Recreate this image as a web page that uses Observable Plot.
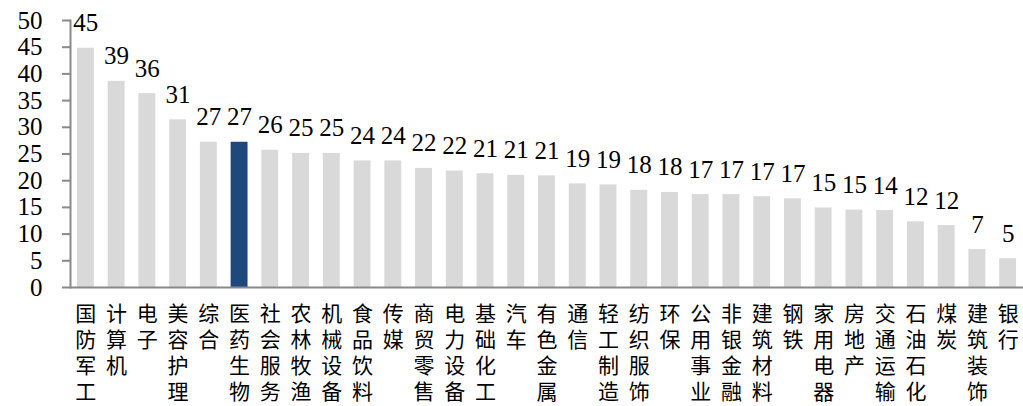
<!DOCTYPE html>
<html>
<head>
<meta charset="utf-8">
<script src="https://cdn.jsdelivr.net/npm/d3@7"></script>
<script src="https://cdn.jsdelivr.net/npm/@observablehq/plot@0.6"></script>
<style>
  html, body { margin: 0; padding: 0; background: #ffffff; }
  svg { display: block; }
  /* Latin digits in a Times-style serif; Chinese glyphs fall through to Noto Sans CJK */
  svg text { font-family: "Liberation Serif", "Times New Roman", "Noto Sans CJK SC", serif; }
</style>
</head>
<body>
<script>
// Industry names (Shenwan level-1), sorted by value
const industries = [
  "国防军工", "计算机", "电子", "美容护理", "综合", "医药生物", "社会服务", "农林牧渔",
  "机械设备", "食品饮料", "传媒", "商贸零售", "电力设备", "基础化工", "汽车", "有色金属",
  "通信", "轻工制造", "纺织服饰", "环保", "公用事业", "非银金融", "建筑材料", "钢铁",
  "家用电器", "房地产", "交通运输", "石油石化", "煤炭", "建筑装饰", "银行"
];

// Value per industry
const values = [
  44.8, 38.6, 36.3, 31.4, 27.2, 27.2, 25.7, 25.1,
  25.1, 23.7, 23.7, 22.3, 21.8, 21.3, 21.0, 20.9,
  19.4, 19.2, 18.2, 17.8, 17.4, 17.4, 17.0, 16.6,
  14.9, 14.5, 14.4, 12.3, 11.6, 7.1, 5.4
];

// Y-axis tick values
const yTicks = [0, 5, 10, 15, 20, 25, 30, 35, 40, 45, 50];

const highlighted = "医药生物";

const rows = industries.map((name, i) => ({name, value: values[i]}));

const axisGray = "#898989";
const barGray = "#d9d9d9";
const barBlue = "#1f497d";
const fontStack = "'Liberation Serif', 'Times New Roman', 'Noto Sans CJK SC', serif";

// Category names are written vertically, one character per row
const charRows = [0, 1, 2, 3];
const rowPitch = 26;
const firstRowOffset = 27;

const nameMarks = charRows.map(k =>
  Plot.text(industries.filter(n => n.length > k), {
    x: d => d,
    text: d => Array.from(d)[k],
    frameAnchor: "bottom",
    lineAnchor: "middle",
    dy: firstRowOffset + k * rowPitch,
    fontSize: 21,
    fontFamily: fontStack,
    fill: "#000000"
  })
);

const chart = Plot.plot({
  width: 1023,
  height: 406,
  marginLeft: 70,
  marginRight: 0,
  marginTop: 20,
  marginBottom: 119,
  style: {background: "#ffffff", color: "#000000", fontFamily: fontStack, overflow: "visible"},
  x: {domain: industries, paddingInner: 0.45, paddingOuter: 0.225, round: false, axis: null},
  y: {domain: [0, 50], axis: null},
  color: {type: "identity"},
  marks: [
    Plot.barY(rows, {
      x: "name",
      y: "value",
      fill: d => d.name === highlighted ? barBlue : barGray
    }),
    Plot.frame({anchor: "left", stroke: axisGray, strokeWidth: 2}),
    Plot.ruleY([0], {stroke: axisGray, strokeWidth: 2}),
    Plot.axisY({
      ticks: yTicks,
      tickSize: 8,
      tickPadding: 20,
      stroke: axisGray,
      strokeWidth: 2,
      fill: "#000000",
      fontSize: 25,
      fontFamily: fontStack,
      label: null
    }),
    ...nameMarks,
    Plot.text(rows, {
      x: "name",
      y: "value",
      text: d => d3.format(".0f")(d.value),
      lineAnchor: "bottom",
      dy: -17,
      fontSize: 25,
      fontFamily: fontStack,
      fill: "#000000"
    })
  ]
});

document.body.appendChild(chart);
</script>
</body>
</html>
